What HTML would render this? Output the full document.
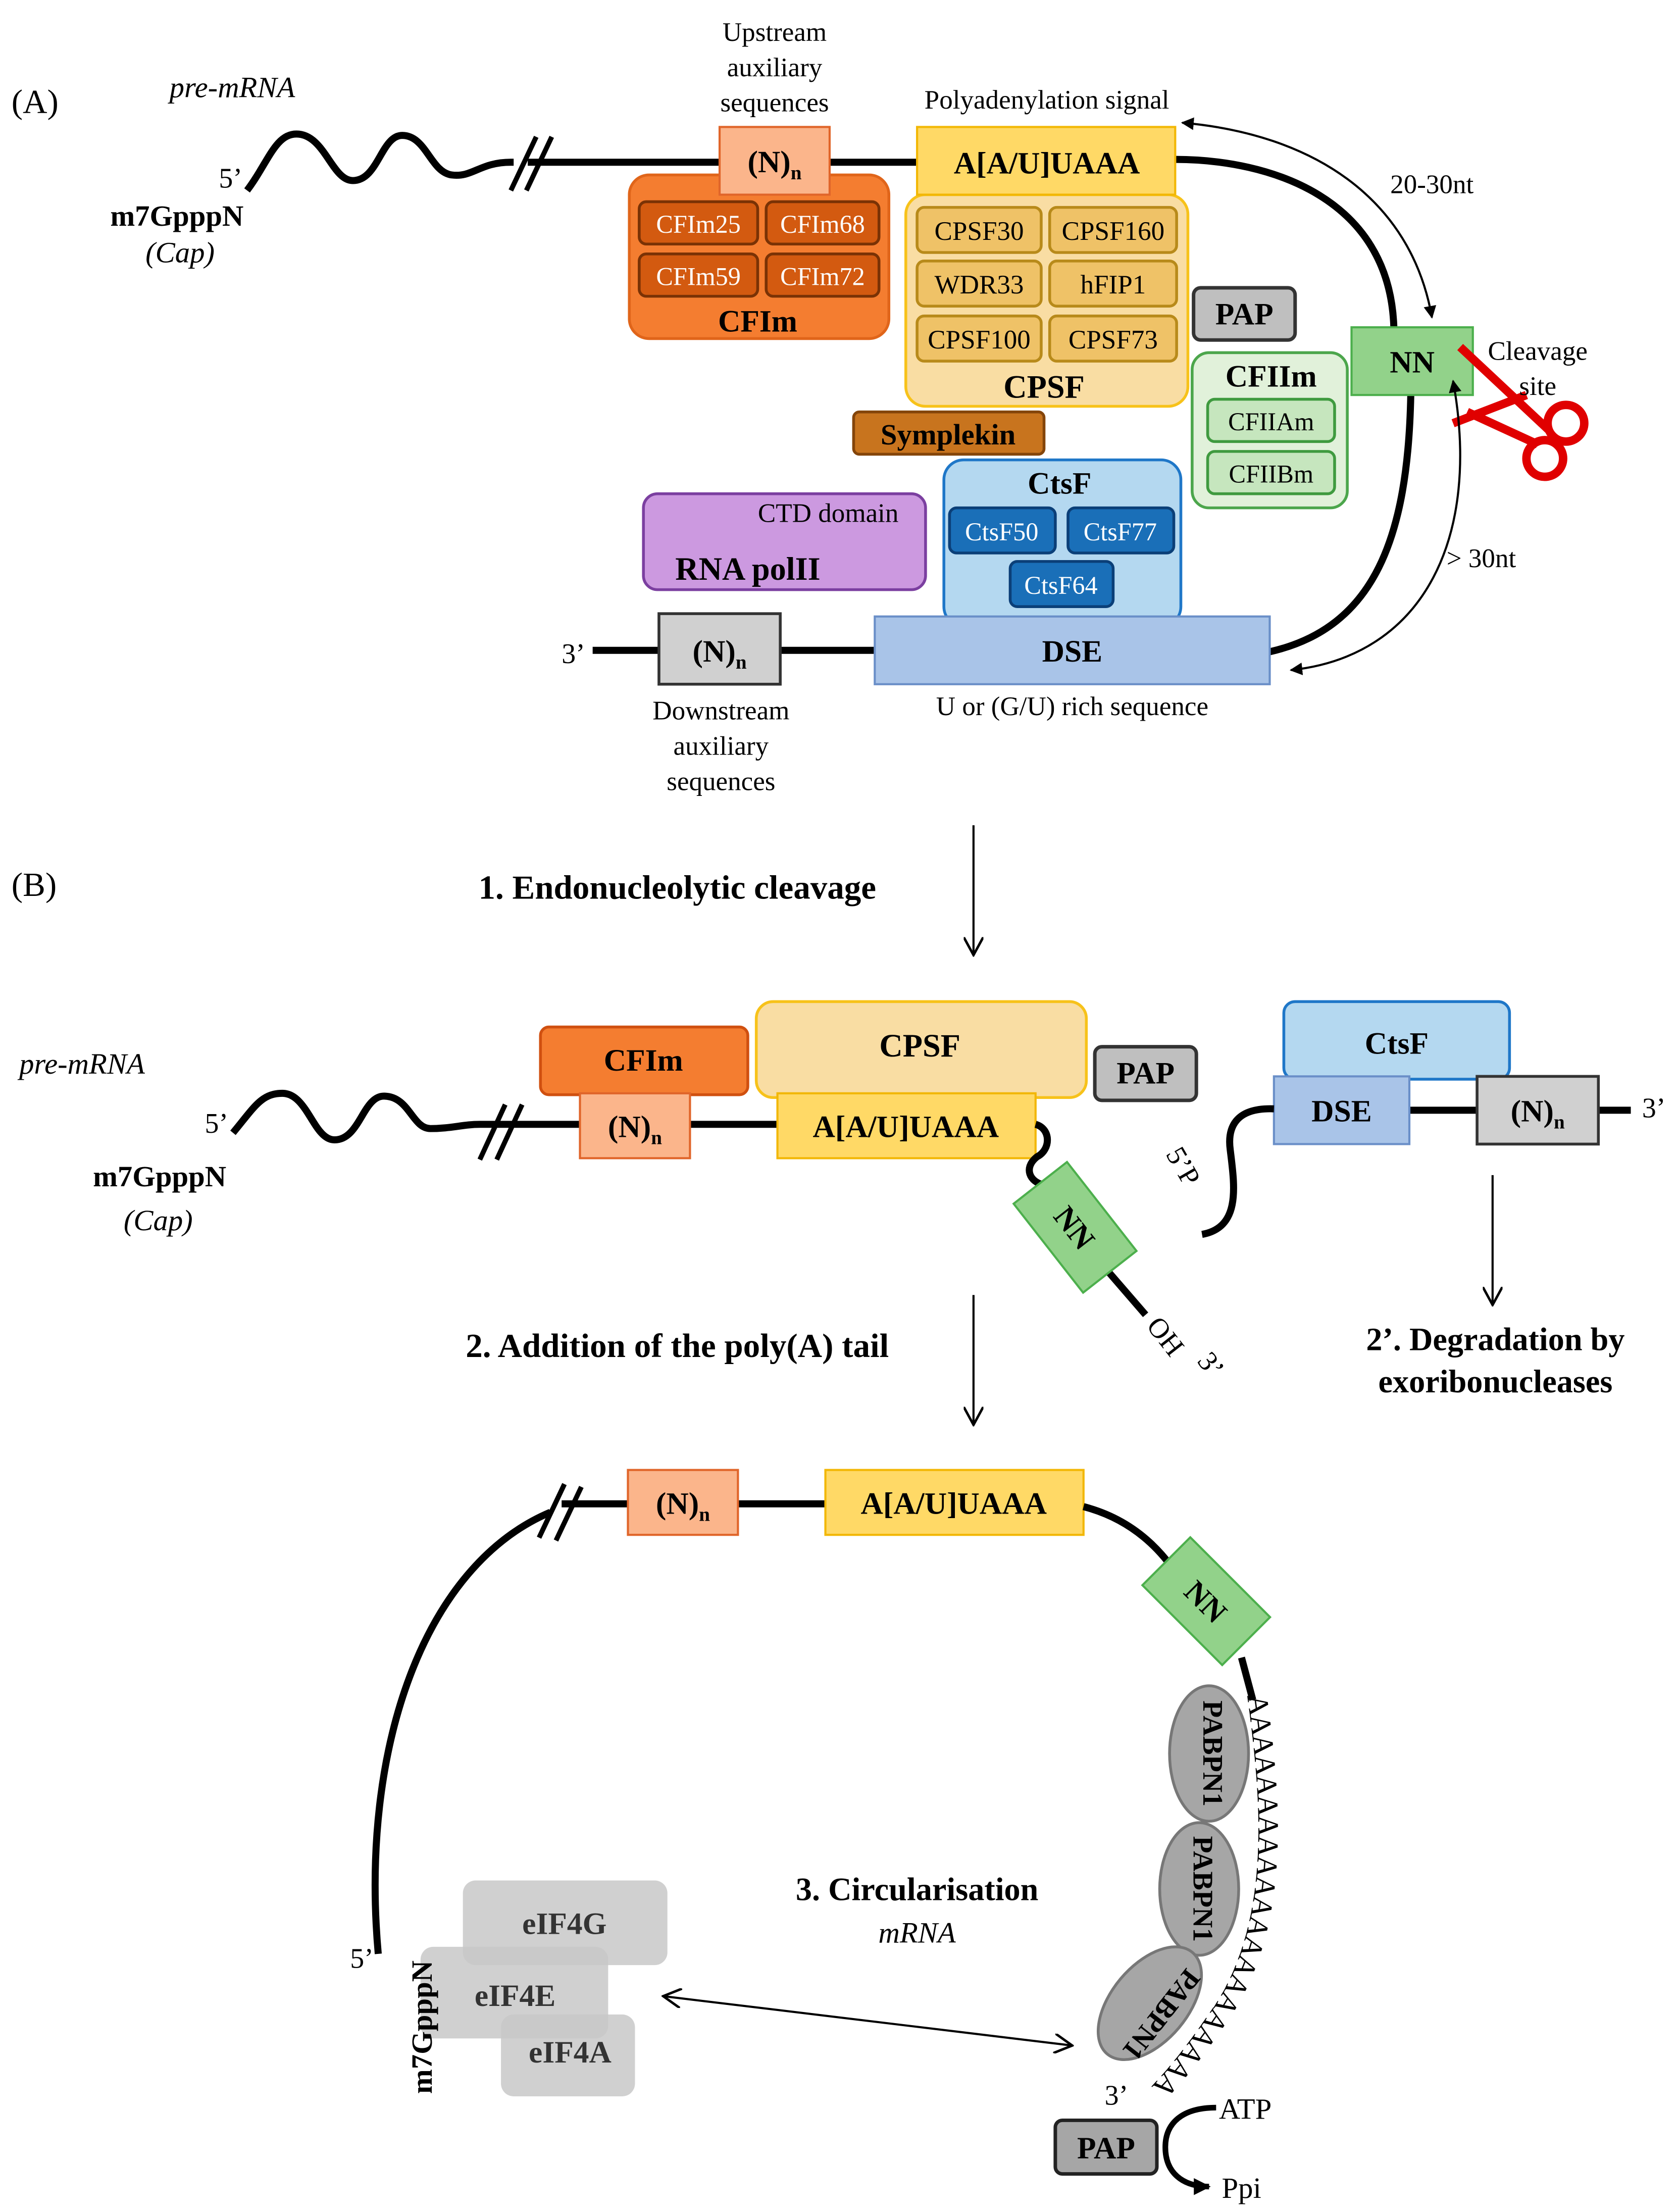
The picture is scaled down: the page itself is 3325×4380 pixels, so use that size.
<!DOCTYPE html>
<html><head><meta charset="utf-8"><style>
html,body{margin:0;padding:0;background:#fff;}
svg{display:block;font-family:"Liberation Serif","DejaVu Serif",serif;}
text{font-family:"Liberation Serif","DejaVu Serif",serif;fill:#000;}
.b{font-weight:bold;}
.i{font-style:italic;}
</style></head><body>
<svg width="3325" height="4380" viewBox="0 0 1190 1568" xmlns="http://www.w3.org/2000/svg" font-family="Liberation Serif, DejaVu Serif, serif">
<defs>
<marker id="ah" viewBox="0 0 10 10" refX="9" refY="5" markerWidth="9" markerHeight="9" orient="auto-start-reverse" markerUnits="userSpaceOnUse"><path d="M0,0 L10,5 L0,10 z" fill="#000"/></marker>
<marker id="oa" viewBox="0 0 12 12" refX="11" refY="6" markerWidth="14" markerHeight="14" orient="auto-start-reverse" markerUnits="userSpaceOnUse"><path d="M0,0 L11,6 L0,12" fill="none" stroke="#000" stroke-width="1.5"/></marker>
<marker id="bh" viewBox="0 0 10 10" refX="9" refY="5" markerWidth="16" markerHeight="12" orient="auto" markerUnits="userSpaceOnUse"><path d="M0,0 L10,5 L0,10 z" fill="#000"/></marker>
</defs>

<!-- ===== (A) ===== -->
<text x="8" y="80" font-size="24">(A)</text>
<text x="120" y="69" font-size="21" class="i">pre-mRNA</text>
<path d="M175,135 C190,115 195,95 210,95 C230,95 235,128 250,128 C268,128 270,96 285,96 C302,96 305,122 320,124 C335,126 340,115 362,115 L510,115" fill="none" stroke="#000" stroke-width="5"/>
<rect x="364" y="108" width="10" height="14" fill="#fff"/>
<path d="M362,135 L380,97 M373,135 L391,97" stroke="#000" stroke-width="3.5"/>
<text x="155" y="133" font-size="20">5’</text>
<text x="78" y="160" font-size="21" class="b">m7GpppN</text>
<text x="103" y="186" font-size="21" class="i">(Cap)</text>
<text x="549" y="29" font-size="19" text-anchor="middle">Upstream</text>
<text x="549" y="54" font-size="19" text-anchor="middle">auxiliary</text>
<text x="549" y="79" font-size="19" text-anchor="middle">sequences</text>
<line x1="588" y1="115" x2="650" y2="115" stroke="#000" stroke-width="5"/>
<path d="M833,113 C900,113 985,140 988,232" fill="none" stroke="#000" stroke-width="5"/>
<path d="M1000,280 C998,380 975,445 900,462" fill="none" stroke="#000" stroke-width="5"/>

<!-- CFIm -->
<rect x="446" y="124" width="184" height="116" rx="14" fill="#F47D30" stroke="#E0651A" stroke-width="2"/>
<g font-size="18" text-anchor="middle">
<rect x="453" y="143" width="84" height="30" rx="5" fill="#D35A10" stroke="#7A3205" stroke-width="2"/><text x="495" y="165" style="fill:#fff">CFIm25</text>
<rect x="543" y="143" width="80" height="30" rx="5" fill="#D35A10" stroke="#7A3205" stroke-width="2"/><text x="583" y="165" style="fill:#fff">CFIm68</text>
<rect x="453" y="180" width="84" height="30" rx="5" fill="#D35A10" stroke="#7A3205" stroke-width="2"/><text x="495" y="202" style="fill:#fff">CFIm59</text>
<rect x="543" y="180" width="80" height="30" rx="5" fill="#D35A10" stroke="#7A3205" stroke-width="2"/><text x="583" y="202" style="fill:#fff">CFIm72</text>
</g>
<text x="537" y="235" font-size="22" class="b" text-anchor="middle">CFIm</text>
<rect x="510" y="90" width="78" height="48" fill="#FBB58B" stroke="#E0652A" stroke-width="1.5"/>
<text x="549" y="122" font-size="22" class="b" text-anchor="middle">(N)<tspan font-size="14" dy="5">n</tspan></text>

<!-- CPSF -->
<rect x="642" y="138" width="200" height="150" rx="14" fill="#F9DDA3" stroke="#F7C21A" stroke-width="2"/>
<g font-size="19" text-anchor="middle">
<rect x="650" y="147" width="88" height="32" rx="5" fill="#EFC267" stroke="#B88A1A" stroke-width="2"/><text x="694" y="170">CPSF30</text>
<rect x="744" y="147" width="90" height="32" rx="5" fill="#EFC267" stroke="#B88A1A" stroke-width="2"/><text x="789" y="170">CPSF160</text>
<rect x="650" y="185" width="88" height="32" rx="5" fill="#EFC267" stroke="#B88A1A" stroke-width="2"/><text x="694" y="208">WDR33</text>
<rect x="744" y="185" width="90" height="32" rx="5" fill="#EFC267" stroke="#B88A1A" stroke-width="2"/><text x="789" y="208">hFIP1</text>
<rect x="650" y="224" width="88" height="32" rx="5" fill="#EFC267" stroke="#B88A1A" stroke-width="2"/><text x="694" y="247">CPSF100</text>
<rect x="744" y="224" width="90" height="32" rx="5" fill="#EFC267" stroke="#B88A1A" stroke-width="2"/><text x="789" y="247">CPSF73</text>
</g>
<text x="740" y="282" font-size="23" class="b" text-anchor="middle">CPSF</text>
<rect x="650" y="90" width="183" height="48" fill="#FFD966" stroke="#F2B705" stroke-width="1.5"/>
<text x="742" y="123" font-size="22" class="b" text-anchor="middle">A[A/U]UAAA</text>
<text x="742" y="77" font-size="19" text-anchor="middle">Polyadenylation signal</text>

<!-- PAP -->
<rect x="846" y="204" width="72" height="37" rx="5" fill="#BFBFBF" stroke="#333" stroke-width="2.5"/>
<text x="882" y="230" font-size="22" class="b" text-anchor="middle">PAP</text>

<!-- NN + scissors -->
<rect x="958" y="232" width="86" height="48" fill="#92D28A" stroke="#4CAF4C" stroke-width="1.5"/>
<text x="1001" y="264" font-size="22" class="b" text-anchor="middle">NN</text>
<g stroke="#E00000" stroke-width="6" fill="none">
<line x1="1035" y1="246" x2="1098" y2="305"/>
<line x1="1082" y1="280" x2="1030" y2="300"/>
<circle cx="1110" cy="300" r="13"/>
<circle cx="1095" cy="325" r="13"/>
<line x1="1040" y1="292" x2="1090" y2="315"/>
</g>
<text x="1090" y="255" font-size="19" text-anchor="middle">Cleavage</text>
<text x="1090" y="280" font-size="19" text-anchor="middle">site</text>
<path d="M838,87 C930,95 1000,140 1015,225" fill="none" stroke="#000" stroke-width="1.5" marker-start="url(#ah)" marker-end="url(#ah)"/>
<text x="1015" y="137" font-size="19" text-anchor="middle">20-30nt</text>
<path d="M1030,270 C1050,380 1010,465 915,475" fill="none" stroke="#000" stroke-width="1.5" marker-start="url(#ah)" marker-end="url(#ah)"/>
<text x="1050" y="402" font-size="19" text-anchor="middle">&gt; 30nt</text>

<!-- CFIIm -->
<rect x="845" y="250" width="110" height="110" rx="12" fill="#E1F1DA" stroke="#4CA64C" stroke-width="2"/>
<text x="901" y="274" font-size="22" class="b" text-anchor="middle">CFIIm</text>
<rect x="856" y="283" width="90" height="30" rx="5" fill="#C6E6BE" stroke="#3F9A3F" stroke-width="2"/>
<text x="901" y="305" font-size="18" text-anchor="middle">CFIIAm</text>
<rect x="856" y="320" width="90" height="30" rx="5" fill="#C6E6BE" stroke="#3F9A3F" stroke-width="2"/>
<text x="901" y="342" font-size="18" text-anchor="middle">CFIIBm</text>

<!-- Symplekin -->
<rect x="605" y="292" width="135" height="30" rx="4" fill="#C8741E" stroke="#84450A" stroke-width="2"/>
<text x="672" y="315" font-size="21" class="b" text-anchor="middle">Symplekin</text>

<!-- RNA polII -->
<rect x="456" y="350" width="200" height="68" rx="10" fill="#CC99E0" stroke="#7B3FA0" stroke-width="2"/>
<text x="587" y="370" font-size="19" text-anchor="middle">CTD domain</text>
<text x="530" y="411" font-size="23" class="b" text-anchor="middle">RNA polII</text>

<!-- CtsF -->
<rect x="669" y="326" width="168" height="118" rx="14" fill="#B4D8F0" stroke="#1F77C8" stroke-width="2"/>
<text x="751" y="350" font-size="22" class="b" text-anchor="middle">CtsF</text>
<g font-size="18" text-anchor="middle">
<rect x="673" y="360" width="75" height="32" rx="5" fill="#1A6FB8" stroke="#0B3F78" stroke-width="2"/><text x="710" y="383" style="fill:#fff">CtsF50</text>
<rect x="757" y="360" width="75" height="32" rx="5" fill="#1A6FB8" stroke="#0B3F78" stroke-width="2"/><text x="794" y="383" style="fill:#fff">CtsF77</text>
<rect x="716" y="398" width="73" height="32" rx="5" fill="#1A6FB8" stroke="#0B3F78" stroke-width="2"/><text x="752" y="421" style="fill:#fff">CtsF64</text>
</g>

<!-- bottom line A -->
<text x="398" y="470" font-size="20">3’</text>
<line x1="420" y1="461" x2="620" y2="461" stroke="#000" stroke-width="5"/>
<rect x="467" y="435" width="86" height="50" fill="#D0D0D0" stroke="#333" stroke-width="2"/>
<text x="510" y="469" font-size="22" class="b" text-anchor="middle">(N)<tspan font-size="14" dy="5">n</tspan></text>
<rect x="620" y="437" width="280" height="48" fill="#A9C4E8" stroke="#6A8FC8" stroke-width="1.5"/>
<text x="760" y="469" font-size="22" class="b" text-anchor="middle">DSE</text>
<text x="511" y="510" font-size="19" text-anchor="middle">Downstream</text>
<text x="511" y="535" font-size="19" text-anchor="middle">auxiliary</text>
<text x="511" y="560" font-size="19" text-anchor="middle">sequences</text>
<text x="760" y="507" font-size="19" text-anchor="middle">U or (G/U) rich sequence</text>

<!-- ===== (B) ===== -->
<text x="8" y="635" font-size="24">(B)</text>
<text x="480" y="637" font-size="24" class="b" text-anchor="middle">1. Endonucleolytic cleavage</text>
<line x1="690" y1="585" x2="690" y2="677" stroke="#000" stroke-width="1.5" marker-end="url(#oa)"/>

<text x="58" y="761" font-size="21" class="i" text-anchor="middle">pre-mRNA</text>
<path d="M165,803 C180,785 185,775 200,775 C218,775 222,808 237,808 C255,808 257,777 272,777 C290,777 292,800 305,800 C320,800 328,797 340,797 L735,797" fill="none" stroke="#000" stroke-width="5"/>
<path d="M340,822 L358,783 M352,822 L370,783" stroke="#000" stroke-width="3.5"/>
<text x="145" y="803" font-size="20">5’</text>
<text x="113" y="841" font-size="21" class="b" text-anchor="middle">m7GpppN</text>
<text x="112" y="872" font-size="21" class="i" text-anchor="middle">(Cap)</text>

<rect x="383" y="728" width="147" height="48" rx="6" fill="#F47D30" stroke="#D05010" stroke-width="2"/>
<text x="456" y="759" font-size="22" class="b" text-anchor="middle">CFIm</text>
<rect x="411" y="775" width="78" height="46" fill="#FBB58B" stroke="#E0652A" stroke-width="1.5"/>
<text x="450" y="806" font-size="22" class="b" text-anchor="middle">(N)<tspan font-size="14" dy="5">n</tspan></text>
<rect x="536" y="710" width="234" height="68" rx="12" fill="#F9DDA3" stroke="#F7C21A" stroke-width="2"/>
<text x="652" y="749" font-size="23" class="b" text-anchor="middle">CPSF</text>
<rect x="551" y="775" width="183" height="46" fill="#FFD966" stroke="#F2B705" stroke-width="1.5"/>
<text x="642" y="806" font-size="22" class="b" text-anchor="middle">A[A/U]UAAA</text>
<rect x="776" y="742" width="72" height="38" rx="5" fill="#BFBFBF" stroke="#333" stroke-width="2.5"/>
<text x="812" y="768" font-size="22" class="b" text-anchor="middle">PAP</text>

<path d="M734,797 C745,800 745,815 735,820 C725,828 730,838 740,840" fill="none" stroke="#000" stroke-width="5"/>
<path d="M780,895 L812,932" stroke="#000" stroke-width="5"/>
<g transform="translate(762,870) rotate(52)">
<rect x="-40" y="-24" width="80" height="48" fill="#92D28A" stroke="#4CAF4C" stroke-width="1.5"/>
<text x="0" y="8" font-size="22" class="b" text-anchor="middle">NN</text>
</g>
<text x="0" y="0" font-size="20" transform="translate(812,940) rotate(52)">OH</text>
<text x="0" y="0" font-size="20" transform="translate(848,965) rotate(52)">3’</text>

<rect x="910" y="710" width="160" height="55" rx="8" fill="#B4D8F0" stroke="#1F77C8" stroke-width="2"/>
<text x="990" y="747" font-size="22" class="b" text-anchor="middle">CtsF</text>
<line x1="999" y1="787" x2="1047" y2="787" stroke="#000" stroke-width="5"/>
<line x1="1133" y1="787" x2="1156" y2="787" stroke="#000" stroke-width="5"/>
<rect x="903" y="763" width="96" height="48" fill="#A9C4E8" stroke="#6A8FC8" stroke-width="1.5"/>
<text x="951" y="795" font-size="22" class="b" text-anchor="middle">DSE</text>
<rect x="1047" y="763" width="86" height="48" fill="#D0D0D0" stroke="#333" stroke-width="2"/>
<text x="1090" y="795" font-size="22" class="b" text-anchor="middle">(N)<tspan font-size="14" dy="5">n</tspan></text>
<text x="1164" y="792" font-size="20">3’</text>
<path d="M903,786 C875,785 870,800 872,815 C875,840 880,870 852,875" fill="none" stroke="#000" stroke-width="5"/>
<text x="0" y="0" font-size="20" transform="translate(826,818) rotate(60)">5’P</text>
<line x1="1058" y1="833" x2="1058" y2="925" stroke="#000" stroke-width="1.5" marker-end="url(#oa)"/>
<text x="1060" y="957" font-size="23" class="b" text-anchor="middle">2’. Degradation by</text>
<text x="1060" y="987" font-size="23" class="b" text-anchor="middle">exoribonucleases</text>

<text x="480" y="962" font-size="24" class="b" text-anchor="middle">2. Addition of the poly(A) tail</text>
<line x1="690" y1="918" x2="690" y2="1010" stroke="#000" stroke-width="1.5" marker-end="url(#oa)"/>

<!-- ===== circular mRNA ===== -->
<path d="M390,1072 C300,1110 255,1240 268,1385" fill="none" stroke="#000" stroke-width="5"/>
<line x1="398" y1="1066" x2="445" y2="1066" stroke="#000" stroke-width="5"/>
<path d="M382,1090 L400,1052 M394,1092 L412,1054" stroke="#000" stroke-width="3.5"/>
<line x1="523" y1="1066" x2="585" y2="1066" stroke="#000" stroke-width="5"/>
<rect x="445" y="1042" width="78" height="46" fill="#FBB58B" stroke="#E0652A" stroke-width="1.5"/>
<text x="484" y="1073" font-size="22" class="b" text-anchor="middle">(N)<tspan font-size="14" dy="5">n</tspan></text>
<rect x="585" y="1042" width="183" height="46" fill="#FFD966" stroke="#F2B705" stroke-width="1.5"/>
<text x="676" y="1073" font-size="22" class="b" text-anchor="middle">A[A/U]UAAA</text>
<path d="M768,1068 C795,1075 815,1090 830,1110" fill="none" stroke="#000" stroke-width="5"/>
<path d="M880,1175 L888,1205" stroke="#000" stroke-width="5"/>
<g transform="translate(855,1135) rotate(45)">
<rect x="-40" y="-24" width="80" height="48" fill="#92D28A" stroke="#4CAF4C" stroke-width="1.5"/>
<text x="0" y="8" font-size="22" class="b" text-anchor="middle">NN</text>
</g>
<path id="tail" d="M884,1202 C895,1280 900,1360 862,1420 C845,1445 830,1465 815,1480" fill="none"/>
<text font-size="21" letter-spacing="-1"><textPath href="#tail">AAAAAAAAAAAAAAAAAAAAAA</textPath></text>

<g fill="#A6A6A6" stroke="#777" stroke-width="2">
<ellipse cx="857" cy="1243" rx="28" ry="48"/>
<ellipse cx="850" cy="1339" rx="28" ry="47"/>
<ellipse cx="815" cy="1420" rx="27" ry="47" transform="rotate(40 815 1420)"/>
</g>
<text font-size="20" class="b" text-anchor="middle" transform="translate(853,1243) rotate(90)">PABPN1</text>
<text font-size="20" class="b" text-anchor="middle" transform="translate(846,1339) rotate(90)">PABPN1</text>
<text font-size="20" class="b" text-anchor="middle" transform="translate(818,1424) rotate(128)">PABPN1</text>
<text x="783" y="1492" font-size="20">3’</text>

<rect x="748" y="1503" width="72" height="38" rx="5" fill="#A6A6A6" stroke="#222" stroke-width="2.5"/>
<text x="784" y="1530" font-size="22" class="b" text-anchor="middle">PAP</text>
<path d="M862,1494 C838,1494 826,1505 826,1522 C826,1540 838,1550 857,1550" fill="none" stroke="#000" stroke-width="4" marker-end="url(#bh)"/>
<text x="864" y="1502" font-size="21">ATP</text>
<text x="866" y="1558" font-size="21">Ppi</text>

<text x="650" y="1347" font-size="23" class="b" text-anchor="middle">3. Circularisation</text>
<text x="650" y="1377" font-size="21" class="i" text-anchor="middle">mRNA</text>

<g fill="#C8C8C8" fill-opacity="0.85">
<rect x="328" y="1333" width="145" height="60" rx="9"/>
<rect x="298" y="1380" width="133" height="65" rx="9"/>
<rect x="355" y="1428" width="95" height="58" rx="9"/>
</g>
<text x="400" y="1371" font-size="22" class="b" text-anchor="middle" style="fill:#333">eIF4G</text>
<text x="365" y="1422" font-size="22" class="b" text-anchor="middle" style="fill:#333">eIF4E</text>
<text x="404" y="1462" font-size="22" class="b" text-anchor="middle" style="fill:#333">eIF4A</text>
<line x1="470" y1="1415" x2="760" y2="1450" stroke="#000" stroke-width="1.5" marker-start="url(#oa)" marker-end="url(#oa)"/>

<text x="248" y="1395" font-size="20">5’</text>
<text font-size="21" class="b" text-anchor="middle" transform="translate(306,1437) rotate(-90)">m7GpppN</text>
</svg>
</body></html>
